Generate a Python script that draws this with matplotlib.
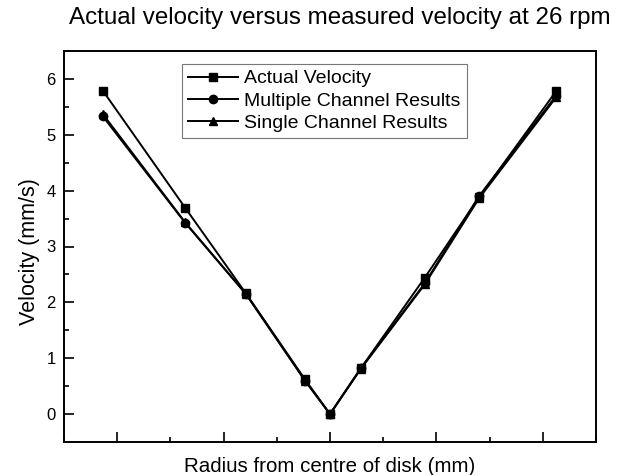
import matplotlib
matplotlib.use("Agg")
import matplotlib.pyplot as plt
from matplotlib.ticker import MultipleLocator

plt.rcParams['font.family'] = ['Liberation Sans', 'DejaVu Sans']

radius = [-2.135, -1.36, -0.79, -0.235, 0.0, 0.29, 0.89, 1.40, 2.125]
actual = [5.79, 3.69, 2.16, 0.62, 0.0, 0.82, 2.44, 3.88, 5.78]
multiple = [5.33, 3.42, 2.15, 0.60, 0.0, 0.82, 2.34, 3.90, 5.70]
single = [5.37, 3.43, 2.15, 0.60, 0.0, 0.81, 2.32, 3.86, 5.67]
y_ticks = [0, 1, 2, 3, 4, 5, 6]

fig = plt.figure(figsize=(6.3, 4.75), dpi=100)
ax = fig.add_axes([64/630, 1-442/475, (596-64)/630, (442-51)/475])

kw = dict(color='black', linewidth=1.4, markersize=6)
ax.plot(radius, actual, marker='s', label='Actual Velocity', **kw)
ax.plot(radius, multiple, marker='o', label='Multiple Channel Results', **kw)
ax.plot(radius, single, marker='^', label='Single Channel Results', **kw)

ax.set_xlim(-2.5, 2.5)
ax.set_ylim(-0.5, 6.5)
ax.set_yticks(y_ticks)
ax.yaxis.set_minor_locator(MultipleLocator(0.5))
ax.xaxis.set_major_locator(MultipleLocator(1))
ax.xaxis.set_minor_locator(MultipleLocator(0.5))
ax.set_xticklabels([])
ax.tick_params(which='both', direction='in', top=False, right=False, width=1.2)
ax.tick_params(which='major', length=7, labelsize=12)
ax.tick_params(which='minor', length=3.5)
ax.tick_params(axis='y', pad=6)
for s in ax.spines.values():
    s.set_linewidth(1.4)

fig.text(330/630, 1-472/475, 'Radius from centre of disk (mm)',
         ha='center', va='baseline', fontsize=14.8)
fig.text(29/630, 1-252/475, 'Velocity (mm/s)', rotation=90,
         ha='center', va='center', fontsize=15.5)
fig.text(340/630, 1-18/475, 'Actual velocity versus measured velocity at 26 rpm',
         ha='center', va='center', fontsize=17.4)

leg = ax.legend(loc='upper left', bbox_to_anchor=(0.222, 0.967), borderaxespad=0,
                fontsize=14, frameon=True, fancybox=False, handlelength=2.6,
                handletextpad=0.3, labelspacing=0.25, borderpad=0.3)
leg.get_frame().set_edgecolor('#555555')
leg.get_frame().set_linewidth(0.8)

fig.savefig('out.png', dpi=100)
